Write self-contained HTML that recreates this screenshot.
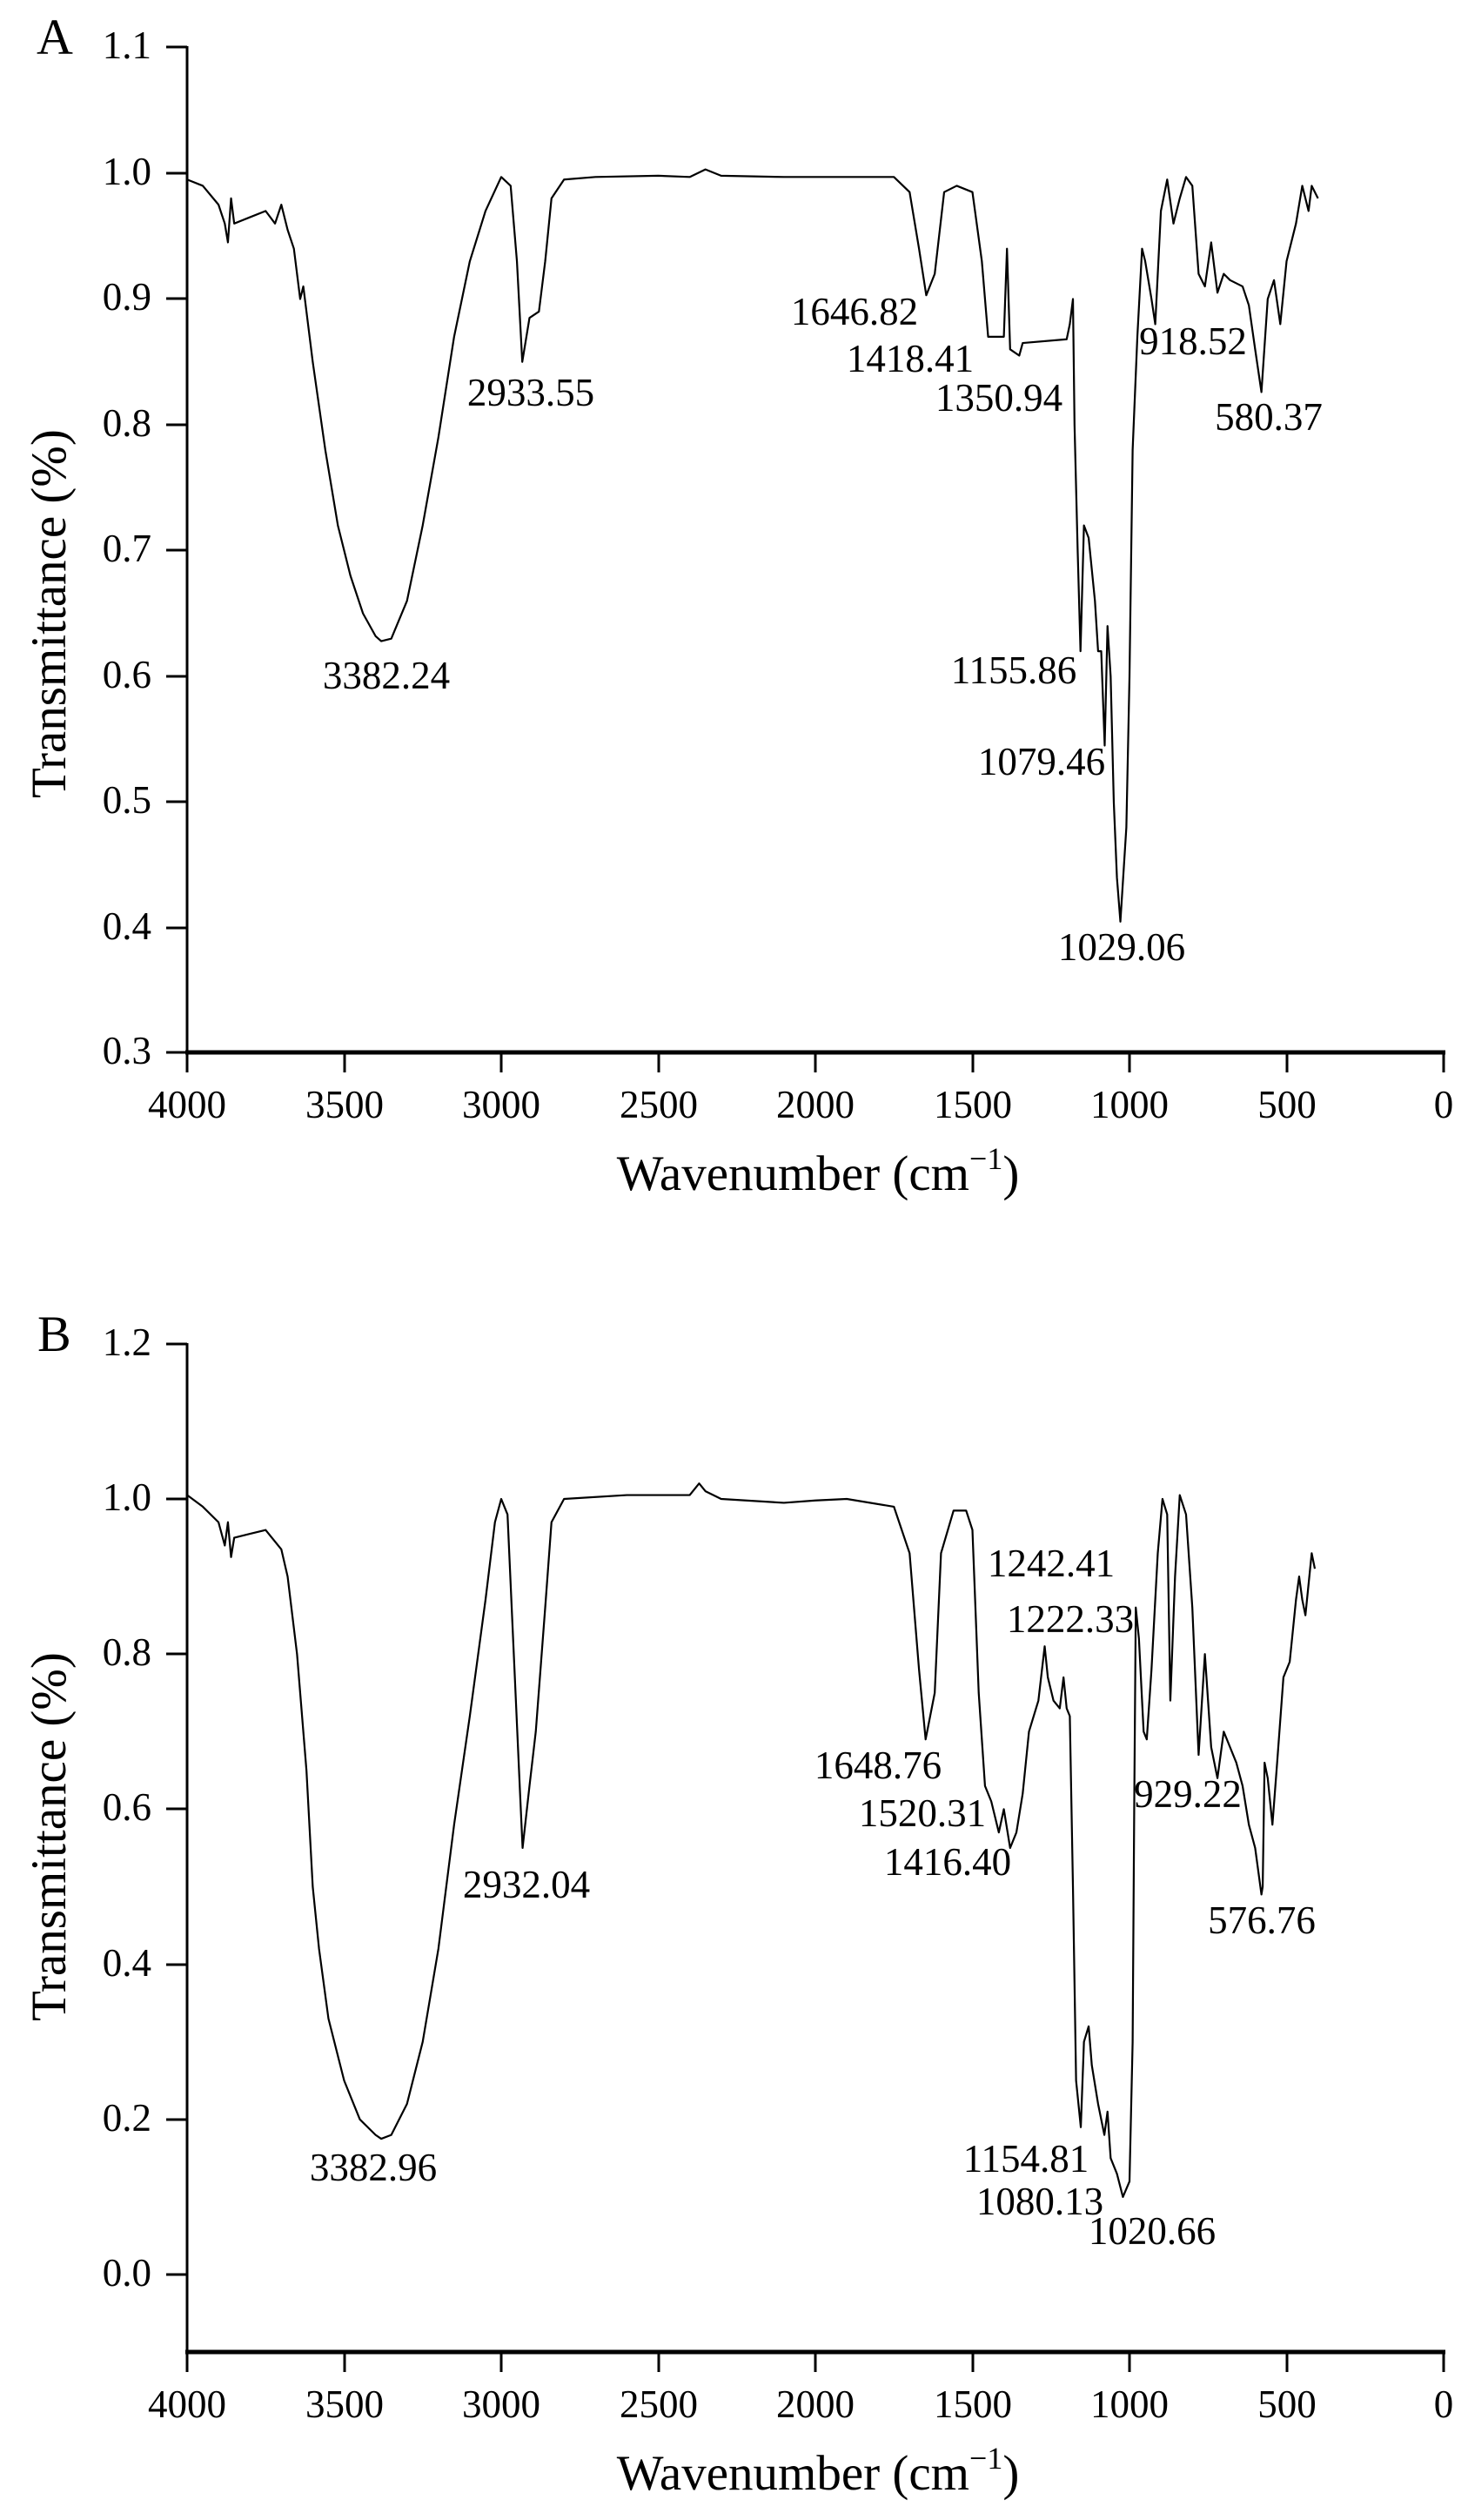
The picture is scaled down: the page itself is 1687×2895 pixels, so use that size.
<!DOCTYPE html>
<html><head><meta charset="utf-8"><style>
html,body{margin:0;padding:0;background:#fff;}
svg{display:block;}
text{font-family:"Liberation Serif",serif;fill:#000;}
</style></head><body>
<svg width="1687" height="2895" viewBox="0 0 1687 2895" xmlns="http://www.w3.org/2000/svg">
<rect width="1687" height="2895" fill="#fff"/>
<!-- Panel A -->
<text x="42" y="62" font-size="58">A</text>
<g stroke="#000" stroke-width="3" fill="none">
<line x1="215" y1="53" x2="215" y2="1210"/>
<line x1="213" y1="1209" x2="1661" y2="1209" stroke-width="5"/>
<line x1="191" y1="54" x2="215" y2="54"/><line x1="191" y1="199" x2="215" y2="199"/>
<line x1="191" y1="343" x2="215" y2="343"/><line x1="191" y1="488" x2="215" y2="488"/>
<line x1="191" y1="632" x2="215" y2="632"/><line x1="191" y1="777" x2="215" y2="777"/>
<line x1="191" y1="921" x2="215" y2="921"/><line x1="191" y1="1066" x2="215" y2="1066"/>
<line x1="191" y1="1209" x2="215" y2="1209"/>
<line x1="215" y1="1209" x2="215" y2="1232"/><line x1="396" y1="1209" x2="396" y2="1232"/>
<line x1="576" y1="1209" x2="576" y2="1232"/><line x1="757" y1="1209" x2="757" y2="1232"/>
<line x1="937" y1="1209" x2="937" y2="1232"/><line x1="1118" y1="1209" x2="1118" y2="1232"/>
<line x1="1298" y1="1209" x2="1298" y2="1232"/><line x1="1479" y1="1209" x2="1479" y2="1232"/>
<line x1="1659" y1="1209" x2="1659" y2="1232"/>
</g>
<g font-size="45" text-anchor="end">
<text x="174" y="67">1.1</text><text x="174" y="212">1.0</text><text x="174" y="356">0.9</text>
<text x="174" y="501">0.8</text><text x="174" y="645">0.7</text><text x="174" y="790">0.6</text>
<text x="174" y="934">0.5</text><text x="174" y="1079">0.4</text><text x="174" y="1222">0.3</text>
</g>
<g font-size="45" text-anchor="middle">
<text x="215" y="1284">4000</text><text x="396" y="1284">3500</text><text x="576" y="1284">3000</text>
<text x="757" y="1284">2500</text><text x="937" y="1284">2000</text><text x="1118" y="1284">1500</text>
<text x="1298" y="1284">1000</text><text x="1479" y="1284">500</text><text x="1659" y="1284">0</text>
</g>
<text x="940" y="1367" font-size="57" text-anchor="middle">Wavenumber (cm<tspan font-size="36" dy="-24">−1</tspan><tspan dy="24">)</tspan></text>
<text transform="translate(75,705) rotate(-90)" font-size="57" text-anchor="middle">Transmittance (%)</text>
<polyline transform="translate(1659,1644) scale(-0.361,-1445)" vector-effect="non-scaling-stroke" fill="none" stroke="#000" stroke-width="2.2" stroke-linejoin="round"
points="4000,0.995 3950,0.99 3900,0.975 3880,0.96 3870,0.945 3860,0.98 3850,0.96 3800,0.965 3750,0.97 3720,0.96 3700,0.975 3680,0.955 3660,0.94 3650,0.92 3640,0.90 3630,0.91 3600,0.85 3560,0.78 3520,0.72 3480,0.68 3440,0.65 3400,0.632 3382,0.628 3350,0.63 3300,0.66 3250,0.72 3200,0.79 3150,0.87 3100,0.93 3050,0.97 3000,0.997 2970,0.99 2950,0.93 2933,0.85 2910,0.885 2880,0.89 2860,0.93 2840,0.98 2800,0.995 2700,0.997 2500,0.998 2400,0.997 2350,1.003 2300,0.998 2100,0.997 1750,0.997 1700,0.985 1670,0.94 1647,0.903 1620,0.92 1590,0.985 1550,0.99 1500,0.985 1470,0.93 1450,0.87 1418,0.87 1400,0.87 1390,0.94 1380,0.86 1351,0.855 1340,0.865 1200,0.868 1190,0.88 1180,0.9 1175,0.8 1165,0.7 1156,0.62 1145,0.72 1130,0.71 1110,0.66 1100,0.62 1090,0.62 1079,0.545 1070,0.64 1060,0.6 1050,0.5 1040,0.44 1029,0.405 1010,0.48 1000,0.6 990,0.78 975,0.87 960,0.94 950,0.93 930,0.9 918,0.88 900,0.97 880,0.995 860,0.96 840,0.98 820,0.997 800,0.99 780,0.92 760,0.91 740,0.945 720,0.905 700,0.92 680,0.915 640,0.91 620,0.895 600,0.86 580,0.826 560,0.9 540,0.915 520,0.88 500,0.93 470,0.96 450,0.99 430,0.97 420,0.99 400,0.98"/>
<g font-size="45" text-anchor="middle">
<text x="444" y="791">3382.24</text><text x="610" y="466">2933.55</text>
<text x="982" y="373">1646.82</text><text x="1046" y="427">1418.41</text><text x="1148" y="472">1350.94</text>
<text x="1371" y="407">918.52</text><text x="1458" y="494">580.37</text>
<text x="1165" y="785">1155.86</text><text x="1197" y="890">1079.46</text><text x="1289" y="1103">1029.06</text>
</g>
<!-- Panel B -->
<text x="43" y="1552" font-size="58">B</text>
<g stroke="#000" stroke-width="3" fill="none">
<line x1="215" y1="1543" x2="215" y2="2703"/>
<line x1="213" y1="2702" x2="1661" y2="2702" stroke-width="5"/>
<line x1="191" y1="1544" x2="215" y2="1544"/><line x1="191" y1="1722" x2="215" y2="1722"/>
<line x1="191" y1="1900" x2="215" y2="1900"/><line x1="191" y1="2078" x2="215" y2="2078"/>
<line x1="191" y1="2257" x2="215" y2="2257"/><line x1="191" y1="2435" x2="215" y2="2435"/>
<line x1="191" y1="2613" x2="215" y2="2613"/>
<line x1="215" y1="2702" x2="215" y2="2725"/><line x1="396" y1="2702" x2="396" y2="2725"/>
<line x1="576" y1="2702" x2="576" y2="2725"/><line x1="757" y1="2702" x2="757" y2="2725"/>
<line x1="937" y1="2702" x2="937" y2="2725"/><line x1="1118" y1="2702" x2="1118" y2="2725"/>
<line x1="1298" y1="2702" x2="1298" y2="2725"/><line x1="1479" y1="2702" x2="1479" y2="2725"/>
<line x1="1659" y1="2702" x2="1659" y2="2725"/>
</g>
<g font-size="45" text-anchor="end">
<text x="174" y="1557">1.2</text><text x="174" y="1735">1.0</text><text x="174" y="1913">0.8</text>
<text x="174" y="2091">0.6</text><text x="174" y="2270">0.4</text><text x="174" y="2448">0.2</text>
<text x="174" y="2626">0.0</text>
</g>
<g font-size="45" text-anchor="middle">
<text x="215" y="2777">4000</text><text x="396" y="2777">3500</text><text x="576" y="2777">3000</text>
<text x="757" y="2777">2500</text><text x="937" y="2777">2000</text><text x="1118" y="2777">1500</text>
<text x="1298" y="2777">1000</text><text x="1479" y="2777">500</text><text x="1659" y="2777">0</text>
</g>
<text x="940" y="2860" font-size="57" text-anchor="middle">Wavenumber (cm<tspan font-size="36" dy="-24">−1</tspan><tspan dy="24">)</tspan></text>
<text transform="translate(75,2110) rotate(-90)" font-size="57" text-anchor="middle">Transmittance (%)</text>
<polyline transform="translate(1659,2613) scale(-0.361,-891)" vector-effect="non-scaling-stroke" fill="none" stroke="#000" stroke-width="2.2" stroke-linejoin="round"
points="4000,1.005 3950,0.99 3900,0.97 3880,0.94 3870,0.97 3860,0.925 3850,0.95 3800,0.955 3750,0.96 3700,0.935 3680,0.90 3650,0.80 3620,0.65 3600,0.50 3580,0.42 3550,0.33 3500,0.25 3450,0.2 3400,0.18 3382,0.175 3350,0.18 3300,0.22 3250,0.3 3200,0.42 3150,0.58 3100,0.72 3050,0.87 3020,0.97 3000,1.0 2980,0.98 2960,0.8 2940,0.62 2932,0.55 2910,0.63 2890,0.7 2860,0.86 2840,0.97 2800,1.0 2600,1.005 2400,1.005 2370,1.02 2350,1.01 2300,1.0 2100,0.995 2000,0.998 1900,1.0 1750,0.99 1700,0.93 1670,0.78 1649,0.69 1620,0.75 1600,0.93 1560,0.985 1520,0.985 1500,0.96 1480,0.75 1460,0.63 1440,0.61 1416,0.57 1400,0.60 1380,0.55 1360,0.57 1340,0.62 1320,0.70 1290,0.74 1270,0.81 1260,0.77 1242,0.74 1222,0.73 1210,0.77 1200,0.73 1190,0.72 1180,0.5 1170,0.25 1155,0.19 1145,0.3 1130,0.32 1120,0.27 1100,0.22 1080,0.18 1070,0.21 1060,0.15 1040,0.13 1021,0.1 1000,0.12 990,0.3 985,0.6 980,0.86 970,0.82 955,0.7 945,0.69 930,0.78 910,0.93 895,1.0 880,0.98 870,0.74 855,0.9 840,1.005 820,0.98 800,0.86 780,0.67 760,0.8 740,0.68 720,0.64 700,0.7 680,0.68 660,0.66 640,0.63 620,0.58 600,0.55 580,0.49 576,0.5 570,0.66 560,0.64 545,0.58 530,0.66 510,0.77 490,0.79 470,0.87 460,0.9 450,0.87 440,0.85 420,0.93 410,0.91"/>
<g font-size="45" text-anchor="middle">
<text x="429" y="2505">3382.96</text><text x="605" y="2180">2932.04</text>
<text x="1009" y="2043">1648.76</text><text x="1060" y="2098">1520.31</text><text x="1089" y="2154">1416.40</text>
<text x="1208" y="1811">1242.41</text><text x="1230" y="1875">1222.33</text>
<text x="1365" y="2076">929.22</text><text x="1450" y="2221">576.76</text>
<text x="1179" y="2495">1154.81</text><text x="1195" y="2544">1080.13</text><text x="1324" y="2578">1020.66</text>
</g>
</svg>
</body></html>
